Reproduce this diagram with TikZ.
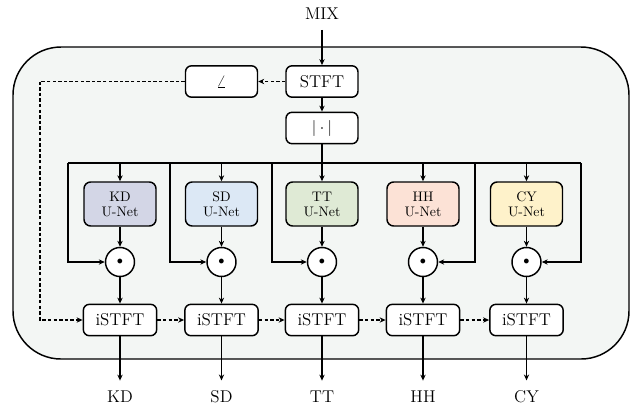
\documentclass[tikz,border=0pt]{standalone}
\usetikzlibrary{arrows.meta}
\definecolor{bgc}{RGB}{243,246,244}
\definecolor{kdc}{RGB}{211,214,230}
\definecolor{sdc}{RGB}{220,232,245}
\definecolor{ttc}{RGB}{223,234,213}
\definecolor{hhc}{RGB}{252,226,214}
\definecolor{cyc}{RGB}{254,242,202}
\begin{document}
\begin{tikzpicture}[x=0.75pt,y=-0.75pt,
  line width=1.1pt,
  every node/.style={font=\fontsize{12.8}{15}\selectfont},
  arr/.style={-{Stealth[length=4.5pt,width=4pt]}},
  dasharr/.style={dash pattern=on 2.6pt off 1.6pt,-{Stealth[length=4.5pt,width=4pt]}},
  dline/.style={dash pattern=on 2.6pt off 1.6pt},
  opbox/.style={draw,rounded corners=4.5pt,fill=white,minimum width=54pt,minimum height=23.5pt,inner sep=1pt},
  unet/.style={draw,rounded corners=5pt,minimum width=54pt,minimum height=33pt,inner sep=1pt,align=center,font=\fontsize{10.4}{11.2}\selectfont},
  mult/.style={draw,circle,fill=white,minimum size=21.75pt,inner sep=0pt,font=\fontsize{9}{9}\selectfont},
  io/.style={inner xsep=2pt,inner ysep=7pt,text depth=0pt}
]
\useasboundingbox (0,0) rectangle (636,405);
\draw[fill=bgc,rounded corners=36pt] (13,47) rectangle (629,359);

\node[io] (mix) at (322,14) {MIX};
\node[opbox] (stft) at (322,81.5) {STFT};
\node[opbox] (ang) at (221.5,81.5) {$\angle$};
\node[opbox] (abs) at (322,128) {$|\cdot|$};

\foreach \i/\x/\n/\c in {1/120/KD/kdc,2/221.5/SD/sdc,3/322/TT/ttc,4/423/HH/hhc,5/526.5/CY/cyc}{
  \node[unet,fill=\c] (un\i) at (\x,204) {\n\\U-Net};
  \node[mult] (m\i) at (\x,262) {$\bullet$};
  \node[opbox,minimum width=55pt] (ist\i) at (\x,320) {iSTFT};
  \node[io] (out\i) at (\x,396.5) {\n};
}

\coordinate (bL) at (68,163);
\coordinate (bR) at (581,163);
\coordinate (f2) at (170,163);
\coordinate (f3) at (272,163);
\coordinate (f4) at (475,163);
\coordinate (dTop) at (40,81.5);

\draw[arr] (mix) -- (stft);
\draw[arr] (stft) -- (abs);
\draw[dasharr] (stft) -- (ang);
\draw (abs) -- (abs|-bL);
\draw (bL) -- (bR);

\foreach \i in {1,...,5}{
  \draw[arr] (un\i|-bL) -- (un\i);
  \draw[arr] (un\i) -- (m\i);
  \draw[arr] (m\i) -- (ist\i);
  \draw[arr] (ist\i) -- (out\i);
}
\draw[arr] (bL) |- (m1);
\draw[arr] (f2) |- (m2);
\draw[arr] (f3) |- (m3);
\draw[arr] (f4) |- (m4);
\draw[arr] (bR) |- (m5);

\draw[dline] (ang.west) -- (dTop);
\draw[dasharr] (dTop) |- (ist1.west);
\foreach \i/\j in {1/2,2/3,3/4,4/5}{
  \draw[dasharr] (ist\i) -- (ist\j);
}
\end{tikzpicture}
\end{document}
